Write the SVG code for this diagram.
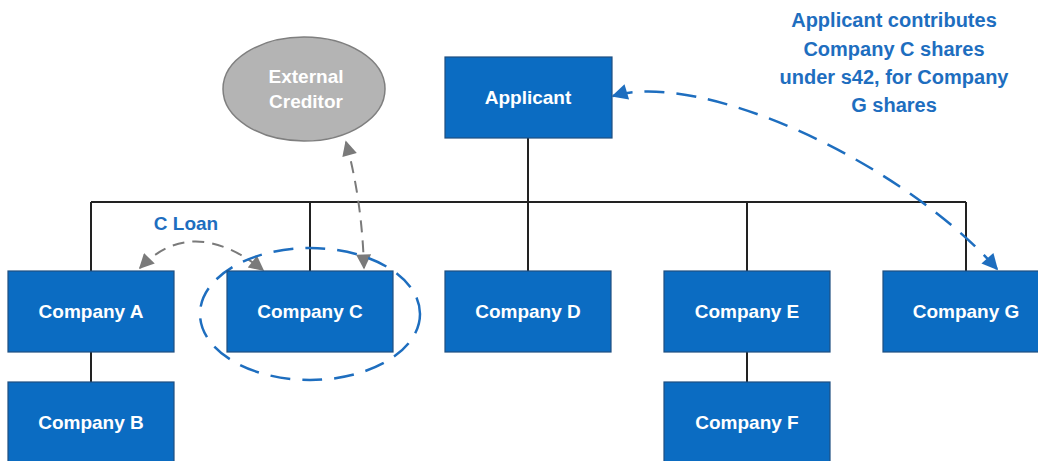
<svg xmlns="http://www.w3.org/2000/svg" width="1038" height="461" viewBox="0 0 1038 461">
  <style>
    .box { fill: #0b6cc2; stroke: #1f4f80; stroke-width: 1.2; }
    .lbl { font-family: "Liberation Sans", Arial, sans-serif; font-weight: bold; font-size: 19px; fill: #ffffff; text-anchor: middle; }
    .wire { stroke: #222222; stroke-width: 2; fill: none; }
    .gdash { stroke: #7a7a7a; stroke-width: 2; fill: none; stroke-dasharray: 12 8; }
    .bdash { stroke: #1e6ebf; stroke-width: 2.5; fill: none; stroke-dasharray: 20 12; }
    .note { font-family: "Liberation Sans", Arial, sans-serif; font-weight: bold; font-size: 20px; fill: #1e6ebf; text-anchor: middle; }
  </style>
  <defs>
    <marker id="arrBlue" viewBox="0 0 10 10" refX="9" refY="5" markerWidth="22" markerHeight="16" markerUnits="userSpaceOnUse" orient="auto-start-reverse">
      <path d="M0,0 L10,5 L0,10 Z" fill="#1e6ebf"/>
    </marker>
    <marker id="arrGray" viewBox="0 0 10 10" refX="9" refY="5" markerWidth="17" markerHeight="15" markerUnits="userSpaceOnUse" orient="auto-start-reverse">
      <path d="M0,0 L10,5 L0,10 Z" fill="#7a7a7a"/>
    </marker>
  </defs>

  <!-- org-chart wiring -->
  <g id="connectors">
    <path class="wire" d="M528,138 V202"/>
    <path class="wire" d="M91,202 H966"/>
    <path class="wire" d="M91,202 V271"/>
    <path class="wire" d="M310,202 V271"/>
    <path class="wire" d="M528,202 V271"/>
    <path class="wire" d="M747,202 V271"/>
    <path class="wire" d="M966,202 V271"/>
    <path class="wire" d="M91,352 V382"/>
    <path class="wire" d="M747,352 V382"/>

    <!-- C loan between A and C -->
    <path class="gdash" d="M140,268 Q192,214 263,270" marker-start="url(#arrGray)" marker-end="url(#arrGray)"/>
    <!-- creditor link -->
    <path class="gdash" d="M346,142 Q362,200 364,268" marker-start="url(#arrGray)" marker-end="url(#arrGray)"/>
    <!-- share exchange -->
    <path class="bdash" d="M613,96 C700,70 900,160 997,269" marker-start="url(#arrBlue)" marker-end="url(#arrBlue)"/>
    <!-- ring around Company C -->
    <ellipse class="bdash" cx="310" cy="314" rx="110" ry="66"/>
  </g>

  <g id="external-creditor">
    <ellipse cx="304" cy="89" rx="81" ry="52" fill="#b4b4b4" stroke="#7f7f7f" stroke-width="1.5"/>
    <text class="lbl" x="306" y="83">External</text>
    <text class="lbl" x="306" y="108">Creditor</text>
  </g>

  <g id="applicant">
    <rect class="box" x="445" y="57" width="167" height="81"/>
    <text class="lbl" x="528" y="104">Applicant</text>
  </g>

  <g id="company-a">
    <rect class="box" x="8" y="271" width="166" height="81"/>
    <text class="lbl" x="91" y="318">Company A</text>
  </g>
  <g id="company-b">
    <rect class="box" x="8" y="382" width="166" height="90"/>
    <text class="lbl" x="91" y="429">Company B</text>
  </g>
  <g id="company-c">
    <rect class="box" x="227" y="271" width="166" height="81"/>
    <text class="lbl" x="310" y="318">Company C</text>
  </g>
  <g id="company-d">
    <rect class="box" x="445" y="271" width="166" height="81"/>
    <text class="lbl" x="528" y="318">Company D</text>
  </g>
  <g id="company-e">
    <rect class="box" x="664" y="271" width="166" height="81"/>
    <text class="lbl" x="747" y="318">Company E</text>
  </g>
  <g id="company-f">
    <rect class="box" x="664" y="382" width="166" height="90"/>
    <text class="lbl" x="747" y="429">Company F</text>
  </g>
  <g id="company-g">
    <rect class="box" x="883" y="271" width="166" height="81"/>
    <text class="lbl" x="966" y="318">Company G</text>
  </g>

  <g id="notes">
    <text class="note" x="186" y="230" style="font-size:19px">C Loan</text>
    <text class="note" x="894" y="27">Applicant contributes</text>
    <text class="note" x="894" y="56">Company C shares</text>
    <text class="note" x="894" y="84">under s42, for Company</text>
    <text class="note" x="894" y="112">G shares</text>
  </g>
</svg>
